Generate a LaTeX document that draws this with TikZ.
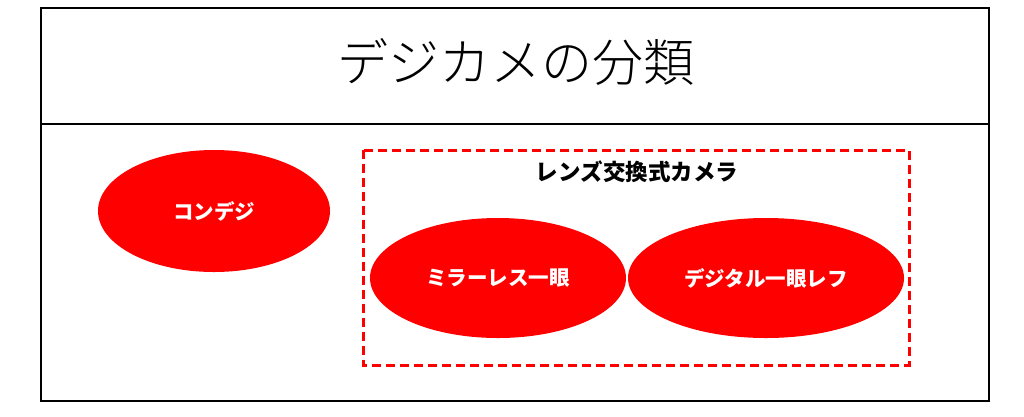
\documentclass[tikz,border=0pt]{standalone}
\usepackage{fontspec}
\newfontfamily\cjk{Noto Sans CJK JP}
\newfontfamily\cjklight{Noto Sans CJK JP}[UprightFont=* Light]
\usetikzlibrary{shapes.geometric}
\begin{document}
\begin{tikzpicture}[x=1pt,y=-1pt,
  lbl/.style={font=\cjk\bfseries\fontsize{20.5}{22}\selectfont,text=white},
  oval/.style={ellipse,fill=red,inner sep=0pt}]
\useasboundingbox (0,0) rectangle (1024,416);
\fill[white] (0,0) rectangle (1024,416);
\draw[line width=2pt] (41,8) rectangle (989,401);
\draw[line width=2pt] (41,124) -- (989,124);
\node (title) at (516,62) {\cjklight\fontsize{51}{55}\selectfont デジカメの分類};
\draw[red,line width=3pt,dash pattern=on 9pt off 5pt] (363,150) rectangle (909,365);
\node (grp) at (637,172) {\cjk\bfseries\fontsize{22.5}{25}\selectfont レンズ交換式カメラ};
\node[oval,minimum width=232pt,minimum height=122pt] (compact) at (214,211) {};
\node[lbl] at (compact) {コンデジ};
\node[oval,minimum width=256pt,minimum height=120pt] (mirrorless) at (498,278) {};
\node[lbl] at (mirrorless) {ミラーレス一眼};
\node[oval,minimum width=276pt,minimum height=120pt] (dslr) at (766,278) {};
\node[lbl] at (dslr) {デジタル一眼レフ};
\end{tikzpicture}
\end{document}
